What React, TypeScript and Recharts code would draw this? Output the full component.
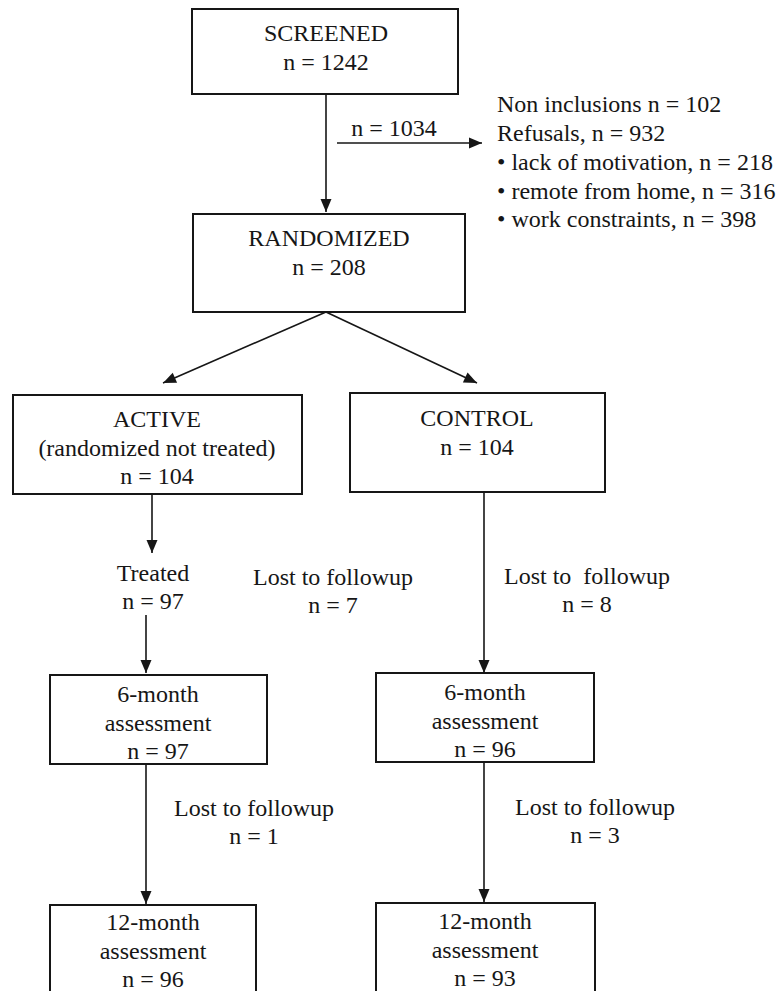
import React from 'react';
import { ScatterChart, Scatter, XAxis, YAxis, ReferenceArea, ReferenceLine } from 'recharts';

// Flow counts
const boxTitles = ['SCREENED', 'RANDOMIZED', 'ACTIVE', 'CONTROL', '6-month', '6-month', '12-month', '12-month'];
const boxSubtitles = ['', '', '(randomized not treated)', '', 'assessment', 'assessment', 'assessment', 'assessment'];
const boxCounts = [1242, 208, 104, 104, 97, 96, 96, 93];

// Box extents in chart units (x: 0-781, y: 0-991 top-down)
const boxLeft = [192, 193, 13, 350, 50, 376, 50, 376];
const boxRight = [458, 465, 302, 605, 267, 594, 256, 595];
const boxTop = [9, 214, 395, 393, 675, 673, 905, 903];
const boxBottom = [94, 312, 494, 492, 764, 762, 1010, 1010];
const boxTextX = [326, 329, 157, 477, 158, 485, 153, 485];
const boxTextY = [33, 238, 419, 418, 694, 692, 922, 921];

// Side notes
const exclusionCount = 1034;
const exclusionLines = [
    'Non inclusions n = 102',
    'Refusals, n = 932',
    '\u2022 lack of motivation, n = 218',
    '\u2022 remote from home, n = 316',
    '\u2022 work constraints, n = 398',
];
const exclusionTop = [104, 133, 162, 191, 219];

const stepLabels = ['Treated', 'Lost to followup', 'Lost to  followup', 'Lost to followup', 'Lost to followup'];
const stepCounts = [97, 7, 8, 1, 3];
const stepX = [153, 333, 587, 254, 595];
const stepY = [573, 577, 576, 808, 807];

// Connectors: start -> end (arrowhead at end)
const linkFrom = [[326, 94], [337, 143], [326, 312], [326, 312], [152, 494], [146, 615], [484, 492], [146, 764], [484, 762]];
const linkTo = [[326, 212], [482, 143], [163, 383], [477, 383], [152, 553], [146, 673], [484, 673], [146, 904], [484, 902]];

const FONT = "'Liberation Serif', 'DejaVu Serif', 'Times New Roman', serif";
const INK = '#161616';
const LINE_GAP = 28.5;

const labelData: { x: number; y: number; text: string; anchor: string }[] = [];
boxTitles.forEach((t, i) => {
    const lines = [t, boxSubtitles[i], `n = ${boxCounts[i]}`].filter(s => s !== '');
    lines.forEach((s, j) => labelData.push({ x: boxTextX[i], y: boxTextY[i] + j * LINE_GAP, text: s, anchor: 'middle' }));
});
labelData.push({ x: 394, y: 128, text: `n = ${exclusionCount}`, anchor: 'middle' });
exclusionLines.forEach((s, i) => labelData.push({ x: 497, y: exclusionTop[i], text: s, anchor: 'start' }));
stepLabels.forEach((s, i) => {
    labelData.push({ x: stepX[i], y: stepY[i], text: s, anchor: 'middle' });
    labelData.push({ x: stepX[i], y: stepY[i] + 28, text: `n = ${stepCounts[i]}`, anchor: 'middle' });
});

const arrowData = linkTo.map((p, i) => ({
    x: p[0],
    y: p[1],
    angle: (Math.atan2(p[1] - linkFrom[i][1], p[0] - linkFrom[i][0]) * 180) / Math.PI,
}));

const renderLabel = (props: any) => {
    const { cx, cy, payload } = props;
    return (
        <text
            x={cx}
            y={cy}
            textAnchor={payload.anchor}
            dominantBaseline="central"
            fill={INK}
            style={{ whiteSpace: 'pre', fontFamily: FONT, fontSize: 24 }}
        >
            {payload.text}
        </text>
    );
};

const renderArrow = (props: any) => {
    const { cx, cy, payload } = props;
    return (
        <polygon
            points="0,0 -13,-5.5 -13,5.5"
            fill={INK}
            transform={`translate(${cx},${cy}) rotate(${payload.angle})`}
        />
    );
};

export default function App() {
    return (
        <div style={{ position: 'absolute', left: 0, top: 0, width: 781, height: 991, background: '#fff' }}>
            <ScatterChart width={781} height={991} margin={{ top: 0, right: 0, bottom: 0, left: 0 }}>
                <XAxis type="number" dataKey="x" domain={[0, 781]} hide />
                <YAxis type="number" dataKey="y" domain={[0, 991]} reversed hide />
                {linkFrom.map((p, i) => (
                    <ReferenceLine
                        key={`link-${i}`}
                        segment={[{ x: p[0], y: p[1] }, { x: linkTo[i][0], y: linkTo[i][1] }]}
                        stroke={INK}
                        strokeWidth={1.6}
                        ifOverflow="visible"
                    />
                ))}
                {boxLeft.map((l, i) => (
                    <ReferenceArea
                        key={`box-${i}`}
                        x1={l}
                        x2={boxRight[i]}
                        y1={boxTop[i]}
                        y2={boxBottom[i]}
                        fill="#fff"
                        fillOpacity={1}
                        stroke={INK}
                        strokeWidth={2}
                        ifOverflow="hidden"
                    />
                ))}
                <Scatter data={arrowData} shape={renderArrow} isAnimationActive={false} />
                <Scatter data={labelData} shape={renderLabel} isAnimationActive={false} />
            </ScatterChart>
        </div>
    );
}
